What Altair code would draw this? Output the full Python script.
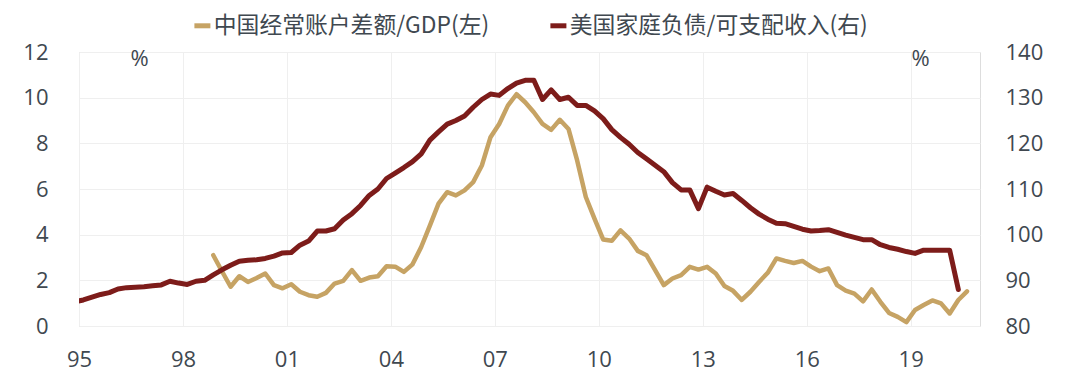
import altair as alt
import pandas as pd

# ---- data (quarterly, positioned mid-quarter as fractional years) ----
cn_label = "中国经常账户差额/GDP(左)"
us_label = "美国家庭负债/可支配收入(右)"

# China current account balance / GDP (%), 1998Q4 .. 2020Q3
cn_start = 1998.875
cn_values = [
    3.1, 2.4, 1.72, 2.18, 1.93, 2.1, 2.3, 1.79, 1.65, 1.83,
    1.5, 1.35, 1.28, 1.45, 1.86, 1.98, 2.45, 1.98, 2.12, 2.18,
    2.62, 2.6, 2.37, 2.7, 3.46, 4.4, 5.36, 5.86, 5.72, 5.94,
    6.3, 7.03, 8.27, 8.85, 9.65, 10.15, 9.8, 9.36, 8.85, 8.59,
    9.03, 8.63, 7.25, 5.65, 4.7, 3.79, 3.73, 4.19, 3.83, 3.29,
    3.1, 2.45, 1.79, 2.08, 2.23, 2.59, 2.47, 2.59, 2.3, 1.75,
    1.54, 1.14, 1.5, 1.93, 2.33, 2.96, 2.85, 2.76, 2.85, 2.6,
    2.4, 2.52, 1.79, 1.55, 1.42, 1.08, 1.6, 1.06, 0.57, 0.4,
    0.17, 0.7, 0.92, 1.12, 0.99, 0.55, 1.14, 1.52,
]

# US household debt / disposable income (%), 1994Q4 .. 2020Q2
us_start = 1994.875
us_values = [
    85.3, 85.7, 86.3, 86.9, 87.3, 88.1, 88.4, 88.5, 88.6, 88.8,
    89.0, 89.8, 89.4, 89.1, 89.8, 90.0, 91.2, 92.3, 93.3, 94.2,
    94.4, 94.5, 94.8, 95.3, 96.0, 96.1, 97.7, 98.6, 100.8, 100.8,
    101.3, 103.2, 104.6, 106.4, 108.6, 110.0, 112.3, 113.5, 114.7, 116.0,
    117.7, 120.7, 122.5, 124.2, 125.0, 126.0, 127.9, 129.6, 130.8, 130.5,
    132.0, 133.2, 133.8, 133.8, 129.6, 131.7, 129.6, 130.1, 128.3, 128.3,
    127.1, 125.4, 123.0, 121.3, 119.8, 118.0, 116.6, 115.2, 113.8, 111.4,
    109.8, 109.8, 105.7, 110.4, 109.5, 108.7, 109.0, 107.5, 105.9, 104.5,
    103.4, 102.5, 102.4, 101.8, 101.2, 100.8, 100.9, 101.1, 100.5, 99.9,
    99.4, 98.9, 98.9, 97.8, 97.2, 96.8, 96.3, 95.9, 96.6, 96.6,
    96.6, 96.6, 88.0,
]

x_ticks = [1995, 1998, 2001, 2004, 2007, 2010, 2013, 2016, 2019]
left_ticks = [0, 2, 4, 6, 8, 10, 12]
right_ticks = [80, 90, 100, 110, 120, 130, 140]

cn_df = pd.DataFrame({
    "t": [cn_start + 0.25 * i for i in range(len(cn_values))],
    "v": cn_values,
    "series": cn_label,
})
us_df = pd.DataFrame({
    "t": [us_start + 0.25 * i for i in range(len(us_values))],
    "v": us_values,
    "series": us_label,
})

TAN = "#C6A364"
RED = "#7D1C1A"
TXT = "#404850"
GRID = "#EFEFEF"
FONT = "Open Sans"
CJK = "Noto Sans CJK SC"

W, H = 901, 274

x_enc = alt.X(
    "t:Q",
    scale=alt.Scale(domain=[1995, 2021], nice=False, zero=False),
    axis=alt.Axis(
        values=x_ticks, title=None, grid=True, gridColor=GRID, gridWidth=1,
        ticks=False, tickSize=0, domain=False, labelPadding=23,
        labelFlush=False, labelOverlap=False,
        labelFontSize=22, labelFont=FONT, labelColor=TXT,
        labelExpr="substring(toString(datum.value), 2)",
    ),
)

color_enc = alt.Color(
    "series:N",
    scale=alt.Scale(domain=[cn_label, us_label], range=[TAN, RED]),
    legend=alt.Legend(
        title=None, orient="none", direction="horizontal",
        legendX=112, legendY=-38,
        symbolType="stroke", symbolSize=256, symbolStrokeWidth=5,
        labelFont=CJK, labelFontSize=22.8, labelColor=TXT, labelLimit=0,
        labelOffset=0, columnPadding=51,
    ),
)

cn_line = alt.Chart(cn_df).mark_line(
    strokeWidth=4.5, strokeJoin="round", strokeCap="round", clip=True
).encode(
    x=x_enc,
    y=alt.Y(
        "v:Q",
        scale=alt.Scale(domain=[0, 12], nice=False, zero=False),
        axis=alt.Axis(
            orient="left", values=left_ticks, grid=True, gridColor=GRID,
            gridWidth=1, ticks=False, tickSize=0, domain=False,
            labelPadding=31, labelFontSize=22, labelFont=FONT,
            labelColor=TXT,
            title="%", titleAngle=0, titleX=60, titleY=6,
            titleAlign="center", titleBaseline="middle",
            titleFont=FONT, titleFontSize=22, titleFontWeight="normal",
            titleColor=TXT,
        ),
    ),
    color=color_enc,
)

us_line = alt.Chart(us_df).mark_line(
    strokeWidth=5, strokeJoin="round", strokeCap="round", clip=True
).encode(
    x=x_enc,
    y=alt.Y(
        "v:Q",
        scale=alt.Scale(domain=[80, 140], nice=False, zero=False),
        axis=alt.Axis(
            orient="right", values=right_ticks, grid=False, ticks=False,
            tickSize=0, domain=False, labelPadding=25, labelFontSize=22,
            labelFont=FONT, labelColor=TXT,
            title="%", titleAngle=0, titleX=-60, titleY=6,
            titleAlign="center", titleBaseline="middle",
            titleFont=FONT, titleFontSize=22, titleFontWeight="normal",
            titleColor=TXT,
        ),
    ),
    color=color_enc,
)

chart = (
    alt.layer(cn_line, us_line)
    .resolve_scale(y="independent")
    .properties(
        width=W, height=H,
        autosize=alt.AutoSizeParams(type="none"),
        padding={"left": 71, "top": 44, "right": 92, "bottom": 45},
    )
    .configure_view(stroke=None)
    .configure(background="white")
)

chart.save("out.html", embed_options={"renderer": "svg", "actions": False})
